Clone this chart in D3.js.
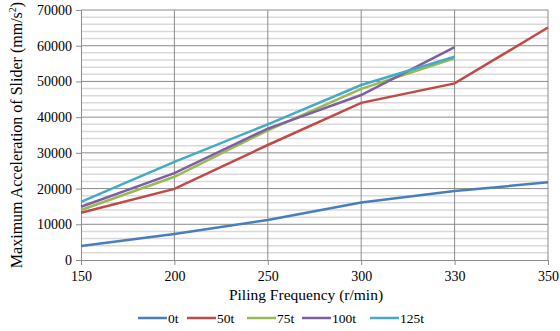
<!DOCTYPE html>
<html>
<head>
<meta charset="utf-8">
<title>slider acceleration</title>
<script src="https://d3js.org/d3.v7.min.js"></script>
<style>
  html, body { margin: 0; padding: 0; background: #fff; }
</style>
</head>
<body>
<div id="chart"></div>
<script>
// data
const frequencies = ['150', '200', '250', '300', '330', '350']
const seriesNames = ['0t', '50t', '75t', '100t', '125t']
const seriesColors = ['#4A7EBB', '#BE4B48', '#98B954', '#7D60A0', '#46AAC5']
const load0 = [3950, 7300, 11200, 16100, 19300, 21750]
const load50 = [13250, 19900, 32200, 44000, 49450, 65100]
const load75 = [14000, 23300, 36300, 47900, 56500]
const load100 = [14900, 24300, 36800, 46200, 59600]
const load125 = [16300, 27500, 38000, 49000, 56900]
const yTicks = [0, 10000, 20000, 30000, 40000, 50000, 60000, 70000]

const allSeries = [load0, load50, load75, load100, load125]

const width = 560, height = 331
const margin = {top: 10, right: 12, bottom: 71, left: 81}
const serif = 'Tinos, "Liberation Serif", "DejaVu Serif", serif'

const svg = d3.select('#chart').append('svg')
  .attr('width', width)
  .attr('height', height)
  .style('font-family', serif)

const x = d3.scalePoint()
  .domain(frequencies)
  .range([margin.left, width - margin.right])

const y = d3.scaleLinear()
  .domain([0, 70000])
  .range([height - margin.bottom, margin.top])

// minor grid
svg.append('g')
  .selectAll('line')
  .data(d3.range(2000, 70000, 2000).filter(v => v % 10000 != 0))
  .enter().append('line')
  .attr('x1', margin.left).attr('x2', width - margin.right)
  .attr('y1', d => y(d)).attr('y2', d => y(d))
  .attr('stroke', '#d9d9d9').attr('stroke-width', 1.5)

// major grid
svg.append('g')
  .selectAll('line')
  .data(yTicks.slice(1))
  .enter().append('line')
  .attr('x1', margin.left).attr('x2', width - margin.right)
  .attr('y1', d => y(d)).attr('y2', d => y(d))
  .attr('stroke', '#8c8c8c').attr('stroke-width', 1)

svg.append('g')
  .selectAll('line')
  .data(frequencies.slice(1))
  .enter().append('line')
  .attr('x1', d => x(d)).attr('x2', d => x(d))
  .attr('y1', y(0)).attr('y2', y(70000))
  .attr('stroke', '#8c8c8c').attr('stroke-width', 1)

// axes
const yAxis = svg.append('g')
  .attr('transform', `translate(${margin.left},0)`)
  .call(d3.axisLeft(y).tickValues(yTicks).tickFormat(d3.format('d')).tickSize(5).tickPadding(4))
const xAxis = svg.append('g')
  .attr('transform', `translate(0,${y(0)})`)
  .call(d3.axisBottom(x).tickSize(5).tickPadding(6))

for (const ax of [yAxis, xAxis]) {
  ax.attr('font-family', null)
  ax.select('.domain').attr('stroke', '#8c8c8c')
  ax.selectAll('.tick line').attr('stroke', '#8c8c8c')
  ax.selectAll('text').attr('font-size', 14).attr('fill', '#000')
    .style('font-family', serif)
}

// lines
const line = d3.line()
  .x((d, i) => x(frequencies[i]))
  .y(d => y(d))

svg.append('g')
  .selectAll('path')
  .data(allSeries)
  .enter().append('path')
  .attr('d', d => line(d))
  .attr('fill', 'none')
  .attr('stroke', (d, i) => seriesColors[i])
  .attr('stroke-width', 2.5)

// axis titles
svg.append('text')
  .attr('x', 306)
  .attr('y', 300)
  .attr('text-anchor', 'middle')
  .attr('font-size', 15.5)
  .style('font-family', serif)
  .text('Piling Frequency (r/min)')

const yt = svg.append('text')
  .attr('transform', `translate(22,${(margin.top + height - margin.bottom) / 2}) rotate(-90)`)
  .attr('text-anchor', 'middle')
  .attr('font-size', 16)
  .style('font-family', serif)
yt.append('tspan').text('Maximum Acceleration of Slider (mm/s')
yt.append('tspan').attr('font-size', 10).attr('dy', -6).text('2')
yt.append('tspan').attr('dy', 6).text(')')

// legend
const legendX = [138, 187, 247, 302, 370]
const legend = svg.append('g')
  .selectAll('g')
  .data(seriesNames)
  .enter().append('g')
  .attr('transform', (d, i) => `translate(${legendX[i]},318)`)
legend.append('line')
  .attr('x1', 0).attr('x2', 29)
  .attr('stroke', (d, i) => seriesColors[i])
  .attr('stroke-width', 2.5)
legend.append('text')
  .attr('x', 30).attr('y', 4.5)
  .attr('font-size', 13.5)
  .style('font-family', serif)
  .text(d => d)
</script>
</body>
</html>
